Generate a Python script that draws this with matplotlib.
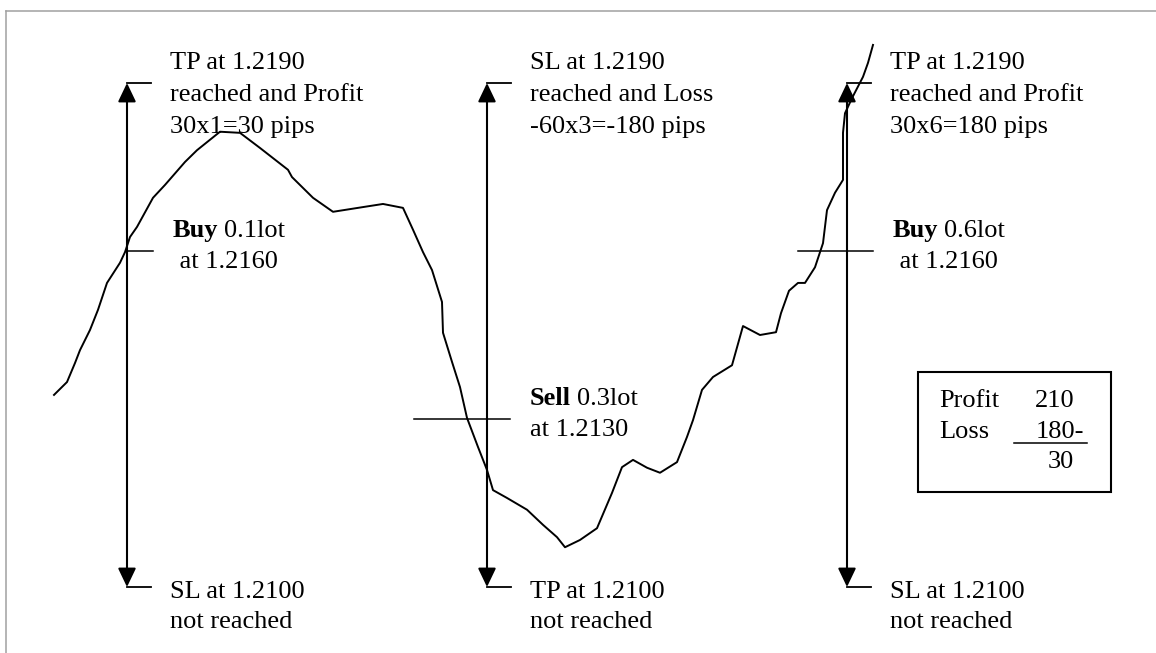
import matplotlib
matplotlib.use('Agg')
import matplotlib.pyplot as plt
from matplotlib.patches import Rectangle

# price path (time units, price)
t = [54, 67, 75, 80, 90, 98, 107, 120, 125, 130, 137, 153, 165, 185, 197, 220,
     240, 260, 288, 292, 313, 333, 365, 383, 403, 413, 423, 432, 442, 443, 452,
     460, 467, 478, 487, 493, 507, 527, 543, 557, 565, 580, 597, 612, 622, 633,
     647, 660, 677, 687, 693, 702, 713, 732, 743, 760, 776, 781, 789, 798, 805,
     815, 823, 827, 835, 843, 843, 845, 852, 863, 868, 873]
price = [1.21343, 1.21366, 1.21400, 1.21423, 1.21459, 1.21495, 1.21543, 1.21579,
         1.21598, 1.21625, 1.21643, 1.21695, 1.21718, 1.21759, 1.21780, 1.21813,
         1.21811, 1.21784, 1.21745, 1.21732, 1.21695, 1.21670, 1.21679, 1.21684,
         1.21677, 1.21638, 1.21598, 1.21566, 1.21509, 1.21454, 1.21402, 1.21357,
         1.21302, 1.21250, 1.21209, 1.21173, 1.21159, 1.21138, 1.21111, 1.21089,
         1.21071, 1.21084, 1.21105, 1.21168, 1.21214, 1.21227, 1.21213, 1.21204,
         1.21223, 1.21268, 1.21298, 1.21352, 1.21375, 1.21396, 1.21466, 1.21450,
         1.21455, 1.21489, 1.21529, 1.21543, 1.21543, 1.21571, 1.21614, 1.21673,
         1.21704, 1.21727, 1.21811, 1.21846, 1.21873, 1.21911, 1.21936, 1.21968]

# trades
trade_t = [127, 487, 847]
top_level = 1.2190
bottom_level = 1.2100
entry_level = [1.2160, 1.2130, 1.2160]
entry_from = [127, 414, 798]
entry_to = [153, 510, 873]

top_labels = [['TP at 1.2190', 'reached and Profit', '30x1=30 pips'],
              ['SL at 1.2190', 'reached and Loss', '-60x3=-180 pips'],
              ['TP at 1.2190', 'reached and Profit', '30x6=180 pips']]
bottom_labels = [['SL at 1.2100', 'not reached'],
                 ['TP at 1.2100', 'not reached'],
                 ['SL at 1.2100', 'not reached']]
entry_side = ['Buy', 'Sell', 'Buy']
entry_lot = ['0.1lot', '0.3lot', '0.6lot']
entry_at = [' at 1.2160', 'at 1.2130', ' at 1.2160']

summary_names = ['Profit', 'Loss', '']
summary_vals = ['210', '180-', '30']

W, H = 1156, 653
fig = plt.figure(figsize=(W / 100, H / 100), dpi=100)
ax = fig.add_axes([0, 0, 1, 1])
ax.set_xlim(0, W)
# 5.6 px per pip, 1.2190 sits at 83 px from the top
ax.set_ylim(1.2190 - (H - 83) / 56000, 1.2190 + 83 / 56000)
ax.axis('off')

# overlay in page pixels for the text
ov = fig.add_axes([0, 0, 1, 1])
ov.set_xlim(0, W)
ov.set_ylim(H, 0)
ov.axis('off')
ov.patch.set_alpha(0)

# page frame
ov.plot([6, W], [11, 11], color='#a0a0a0', lw=1.1)
ov.plot([6, 6], [11, H], color='#a0a0a0', lw=1.1)

ax.plot(t, price, color='black', lw=1.4)

for i, x in enumerate(trade_t):
    ax.annotate('', xy=(x, top_level), xytext=(x, bottom_level),
                arrowprops=dict(arrowstyle='<|-|>,head_length=1.15,head_width=0.55',
                                mutation_scale=10, lw=1.5, color='black',
                                shrinkA=0, shrinkB=0))
    ax.plot([x, x + 24], [top_level, top_level], color='black', lw=1.3)
    ax.plot([x, x + 24], [bottom_level, bottom_level], color='black', lw=1.3)
    ax.plot([entry_from[i], entry_to[i]], [entry_level[i], entry_level[i]],
            color='black', lw=1.1)

font = dict(family='Liberation Serif', fontsize=19, va='baseline', color='black')
top_x = [170, 530, 890]
for i, lines in enumerate(top_labels):
    for j, s in enumerate(lines):
        ov.text(top_x[i], 69 + 32 * j, s, **font)
for i, lines in enumerate(bottom_labels):
    for j, s in enumerate(lines):
        ov.text(top_x[i], 598 + 30 * j, s, **font)

side_x = [173, 530, 893]
lot_gap = [51, 47, 51]
side_y = [237, 405, 237]
for i in range(3):
    ov.text(side_x[i], side_y[i], entry_side[i], fontweight='bold', **font)
    ov.text(side_x[i] + lot_gap[i], side_y[i], entry_lot[i], **font)
    ov.text(side_x[i], side_y[i] + 31, entry_at[i], **font)

# summary box
val_x = [1035, 1036, 1048]
ov.add_patch(Rectangle((918, 372), 193, 120, fill=False, lw=1.5, ec='black'))
for j in range(3):
    ov.text(939, 407 + 30.5 * j, summary_names[j], **font)
    ov.text(val_x[j], 407 + 30.5 * j, summary_vals[j], **font)
ov.plot([1014, 1087], [443, 443], color='black', lw=1.1)

fig.savefig('out.png', dpi=100)
